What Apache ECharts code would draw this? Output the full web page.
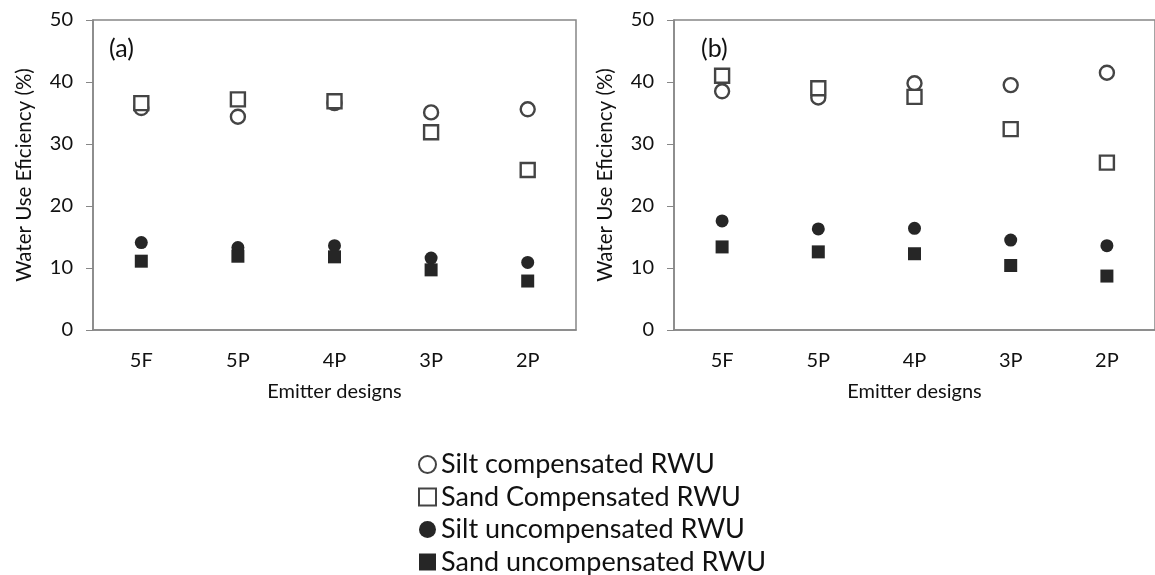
<!DOCTYPE html>
<html>
<head>
<meta charset="utf-8">
<script src="https://cdn.jsdelivr.net/npm/echarts@6/dist/echarts.min.js"></script>
<style>
  html, body { margin: 0; padding: 0; background: #fff; }
  #chart { width: 1155px; height: 575px; }
</style>
</head>
<body>
<div id="chart"></div>
<script>
// emitter designs on the x axis
const categories = ['5F', '5P', '4P', '3P', '2P']
const yTicks = [0, 10, 20, 30, 40, 50]

// panel (a)
const siltCompA = [35.8, 34.4, 36.6, 35.1, 35.6]
const sandCompA = [36.6, 37.2, 36.9, 31.9, 25.8]
const siltUncompA = [14.1, 13.3, 13.6, 11.6, 10.9]
const sandUncompA = [11.1, 11.9, 11.8, 9.7, 7.9]

// panel (b)
const siltCompB = [38.5, 37.5, 39.8, 39.5, 41.5]
const sandCompB = [41.0, 39.0, 37.6, 32.4, 27.0]
const siltUncompB = [17.6, 16.3, 16.4, 14.5, 13.6]
const sandUncompB = [13.4, 12.6, 12.3, 10.4, 8.7]

const seriesNames = ['Silt compensated RWU', 'Sand Compensated RWU', 'Silt uncompensated RWU', 'Sand uncompensated RWU']

const font = 'Lato'
const axisGrey = '#878787'
const markGrey = '#444'
const markDark = '#262626'

const chart = echarts.init(document.getElementById('chart'))

function xAxisFor (idx) {
    return {
        type: 'category',
        gridIndex: idx,
        data: categories,
        boundaryGap: true,
        name: 'Emitter designs',
        nameLocation: 'middle',
        nameGap: 52,
        nameTextStyle: { fontFamily: font, fontSize: 20, color: '#111' },
        axisLine: { lineStyle: { color: axisGrey, width: 1.5 } },
        axisTick: { show: false },
        axisLabel: { margin: 21, fontFamily: font, fontSize: 20, color: '#111' },
        splitLine: { show: false }
    }
}

function yAxisFor (idx) {
    return {
        type: 'value',
        gridIndex: idx,
        min: yTicks[0],
        max: yTicks[yTicks.length - 1],
        interval: yTicks[1] - yTicks[0],
        name: 'Water Use Eficiency (%)',
        nameLocation: 'middle',
        nameRotate: 90,
        nameGap: 58,
        nameTextStyle: { fontFamily: font, fontSize: 20.5, color: '#111' },
        axisLine: { show: true, lineStyle: { color: axisGrey, width: 1.5 } },
        axisTick: { show: true, length: 7, lineStyle: { color: axisGrey } },
        axisLabel: { margin: 20, fontFamily: font, fontSize: 20, color: '#111' },
        splitLine: { show: false }
    }
}

function panelSeries (idx, siltComp, sandComp, siltUncomp, sandUncomp) {
    const common = { type: 'scatter', xAxisIndex: idx, yAxisIndex: idx }
    return [
        Object.assign({}, common, {
            name: seriesNames[0], data: siltComp, symbol: 'circle', symbolSize: 14,
            itemStyle: { color: '#fff', borderColor: markGrey, borderWidth: 2.4, opacity: 1 }
        }),
        Object.assign({}, common, {
            name: seriesNames[1], data: sandComp, symbol: 'rect', symbolSize: 14,
            itemStyle: { color: '#fff', borderColor: markGrey, borderWidth: 2.4, opacity: 1 }
        }),
        Object.assign({}, common, {
            name: seriesNames[2], data: siltUncomp, symbol: 'circle', symbolSize: 13,
            itemStyle: { color: markDark, opacity: 1 }
        }),
        Object.assign({}, common, {
            name: seriesNames[3], data: sandUncomp, symbol: 'rect', symbolSize: 13,
            itemStyle: { color: markDark, opacity: 1 }
        })
    ]
}

const option = {
    backgroundColor: '#fff',
    animation: false,
    textStyle: { fontFamily: font },
    title: [
        { text: '(a)', left: 104, top: 31, textStyle: { fontFamily: font, fontSize: 25, fontWeight: 'normal', color: '#111' } },
        { text: '(b)', left: 696, top: 31, textStyle: { fontFamily: font, fontSize: 25, fontWeight: 'normal', color: '#111' } }
    ],
    grid: [
        { left: 93, top: 20, width: 483, height: 310, show: true, borderColor: axisGrey, borderWidth: 1.5, backgroundColor: 'transparent' },
        { left: 674, top: 20, width: 490, height: 310, show: true, borderColor: axisGrey, borderWidth: 1.5, backgroundColor: 'transparent' }
    ],
    xAxis: [xAxisFor(0), xAxisFor(1)],
    yAxis: [yAxisFor(0), yAxisFor(1)],
    legend: {
        orient: 'vertical',
        left: 418,
        top: 451,
        width: 400,
        height: 200,
        padding: 0,
        itemWidth: 17,
        itemHeight: 17,
        itemGap: 5.5,
        itemTextGap: 9,
        data: seriesNames,
        textStyle: { fontFamily: font, fontSize: 27, lineHeight: 27, color: '#111' }
    },
    series: [].concat(
        panelSeries(0, siltCompA, sandCompA, siltUncompA, sandUncompA),
        panelSeries(1, siltCompB, sandCompB, siltUncompB, sandUncompB)
    )
}

chart.setOption(option)
</script>
</body>
</html>
